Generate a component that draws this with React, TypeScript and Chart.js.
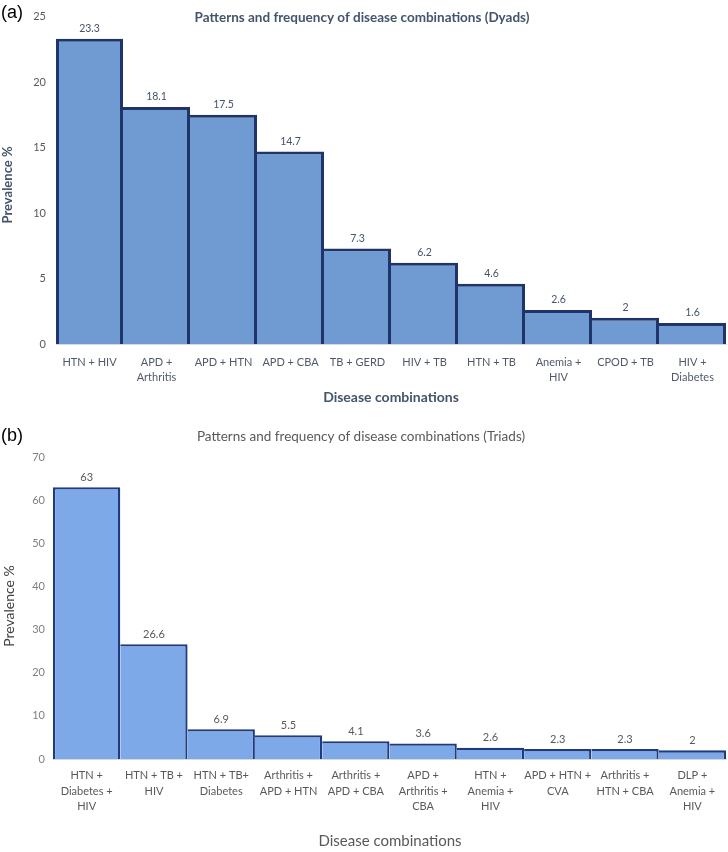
import React, { useEffect, useRef } from "react";
import { Chart, registerables } from "chart.js";

Chart.register(...registerables);

// ---------- Data ----------
const dyadLabels: string[][] = [
  ["HTN + HIV"],
  ["APD +", "Arthritis"],
  ["APD + HTN"],
  ["APD + CBA"],
  ["TB + GERD"],
  ["HIV + TB"],
  ["HTN + TB"],
  ["Anemia +", "HIV"],
  ["CPOD + TB"],
  ["HIV +", "Diabetes"],
];
const dyadValues = [23.3, 18.1, 17.5, 14.7, 7.3, 6.2, 4.6, 2.6, 2, 1.6];
const dyadAxisMax = 25;
const dyadStep = 5;

const triadLabels: string[][] = [
  ["HTN +", "Diabetes +", "HIV"],
  ["HTN + TB +", "HIV"],
  ["HTN + TB+", "Diabetes"],
  ["Arthritis +", "APD + HTN"],
  ["Arthritis +", "APD + CBA"],
  ["APD +", "Arthritis +", "CBA"],
  ["HTN +", "Anemia +", "HIV"],
  ["APD + HTN +", "CVA"],
  ["Arthritis +", "HTN + CBA"],
  ["DLP +", "Anemia +", "HIV"],
];
const triadValues = [63, 26.6, 6.9, 5.5, 4.1, 3.6, 2.6, 2.3, 2.3, 2];
const triadAxisMax = 70;
const triadStep = 10;

// ---------- Chart builder ----------
type PanelSpec = {
  width: number;
  height: number;
  labels: string[][];
  values: number[];
  max: number;
  step: number;
  fill: string;
  stroke: string;
  strokeW: number;
  padTop: number;
  yWidth: number;
  xHeight: number;
  yTickPad: number;
  yTickColor: string;
  xTickPad: number;
  xTickColor: string;
  xTickSize: number;
  xTickLineHeight: number;
  valueColor: string;
  valueFont: string;
  valueOffset: number;
  panelLetter: string;
  letterY: number;
  title: string;
  titleFont: string;
  titleColor: string;
  titleX: number;
  titleY: number;
  yTitleFont: string;
  yTitleColor: string;
  yTitleX: number;
  yTitleY: number;
  xTitleFont: string;
  xTitleColor: string;
  xTitleX: number;
  xTitleY: number;
};

function makeTextPlugin(p: PanelSpec) {
  return {
    id: "panelText" + p.panelLetter,
    afterDatasetsDraw(chart: any) {
      const ctx = chart.ctx;
      const meta = chart.getDatasetMeta(0);
      ctx.save();
      ctx.fillStyle = p.valueColor;
      ctx.font = p.valueFont;
      ctx.textAlign = "center";
      ctx.textBaseline = "middle";
      meta.data.forEach((bar: any, i: number) => {
        ctx.fillText(String(p.values[i]), bar.x, bar.y - p.valueOffset);
      });
      ctx.restore();
    },
    afterDraw(chart: any) {
      const ctx = chart.ctx;
      ctx.save();
      // panel letter
      ctx.fillStyle = "#000000";
      ctx.font = "18px 'Liberation Sans', Arial, sans-serif";
      ctx.textAlign = "left";
      ctx.textBaseline = "middle";
      ctx.fillText(p.panelLetter, 1, p.letterY);
      // title
      ctx.fillStyle = p.titleColor;
      ctx.font = p.titleFont;
      ctx.textAlign = "center";
      ctx.fillText(p.title, p.titleX, p.titleY);
      // x title
      ctx.fillStyle = p.xTitleColor;
      ctx.font = p.xTitleFont;
      ctx.fillText("Disease combinations", p.xTitleX, p.xTitleY);
      // y title
      ctx.translate(p.yTitleX, p.yTitleY);
      ctx.rotate(-Math.PI / 2);
      ctx.fillStyle = p.yTitleColor;
      ctx.font = p.yTitleFont;
      ctx.fillText("Prevalence %", 0, 0);
      ctx.restore();
    },
  };
}

function buildConfig(p: PanelSpec): any {
  const n = p.values.length;
  return {
    type: "bar",
    data: {
      labels: p.labels,
      datasets: [
        {
          data: p.values,
          backgroundColor: p.fill,
          borderColor: p.stroke,
          borderWidth: (c: any) => {
            const i = c.dataIndex;
            const v = p.values;
            return {
              top: p.strokeW,
              left: i === 0 || v[i - 1] < v[i] ? p.strokeW : 0,
              right: i === n - 1 || v[i + 1] <= v[i] ? p.strokeW : 0,
              bottom: 0,
            };
          },
          borderSkipped: false,
          barPercentage: 1,
          categoryPercentage: 1,
          inflateAmount: 0,
        },
      ],
    },
    options: {
      responsive: false,
      animation: false,
      events: [],
      layout: { padding: { left: 0, top: p.padTop, right: 2, bottom: 0 } },
      plugins: {
        legend: { display: false },
        title: { display: false },
        tooltip: { enabled: false },
      },
      scales: {
        x: {
          grid: { display: false, drawTicks: false },
          border: { display: true, color: "#d9d9d9" },
          ticks: {
            color: p.xTickColor,
            font: { family: "Lato, 'Open Sans', sans-serif", size: p.xTickSize, lineHeight: p.xTickLineHeight },
            padding: p.xTickPad,
            maxRotation: 0,
            minRotation: 0,
            autoSkip: false,
          },
          afterFit: (s: any) => {
            s.height = p.xHeight;
          },
        },
        y: {
          min: 0,
          max: p.max,
          grid: { display: false, drawTicks: false },
          border: { display: false },
          ticks: {
            stepSize: p.step,
            color: p.yTickColor,
            font: { family: "Lato, 'Open Sans', sans-serif", size: 11 },
            padding: p.yTickPad,
          },
          afterFit: (s: any) => {
            s.width = p.yWidth;
          },
        },
      },
    },
    plugins: [makeTextPlugin(p)],
  };
}

const TOP_H = 415;
const BOTTOM_H = 852 - TOP_H;

const dyadSpec: PanelSpec = {
  width: 728,
  height: TOP_H,
  labels: dyadLabels,
  values: dyadValues,
  max: dyadAxisMax,
  step: dyadStep,
  fill: "#6F9AD2",
  stroke: "#1F3468",
  strokeW: 3,
  padTop: 12,
  yWidth: 56,
  xHeight: TOP_H - 344,
  yTickPad: 10,
  yTickColor: "#595959",
  xTickPad: 11,
  xTickColor: "#505a6a",
  xTickSize: 11,
  xTickLineHeight: 1.36,
  valueColor: "#44546A",
  valueFont: "10.5px Lato, 'Open Sans', sans-serif",
  valueOffset: 10,
  panelLetter: "(a)",
  letterY: 13,
  title: "Patterns and frequency of disease combinations (Dyads)",
  titleFont: "bold 13.5px Lato, 'Open Sans', sans-serif",
  titleColor: "#44546A",
  titleX: 362,
  titleY: 18,
  yTitleFont: "bold 13px Lato, 'Open Sans', sans-serif",
  yTitleColor: "#44546A",
  yTitleX: 8,
  yTitleY: 185,
  xTitleFont: "bold 14px Lato, 'Open Sans', sans-serif",
  xTitleColor: "#44546A",
  xTitleX: 391,
  xTitleY: 397,
};

const triadSpec: PanelSpec = {
  width: 728,
  height: BOTTOM_H,
  labels: triadLabels,
  values: triadValues,
  max: triadAxisMax,
  step: triadStep,
  fill: "#7DA9E8",
  stroke: "#1F3A7E",
  strokeW: 2.3,
  padTop: 457 - TOP_H,
  yWidth: 53,
  xHeight: BOTTOM_H - (759 - TOP_H),
  yTickPad: 8,
  yTickColor: "#7f7f7f",
  xTickPad: 9,
  xTickColor: "#595959",
  xTickSize: 11,
  xTickLineHeight: 1.4,
  valueColor: "#595959",
  valueFont: "11px Lato, 'Open Sans', sans-serif",
  valueOffset: 10,
  panelLetter: "(b)",
  letterY: 436 - TOP_H,
  title: "Patterns and frequency of disease combinations (Triads)",
  titleFont: "13.5px Lato, 'Open Sans', sans-serif",
  titleColor: "#595959",
  titleX: 361,
  titleY: 437 - TOP_H,
  yTitleFont: "14px Lato, 'Open Sans', sans-serif",
  yTitleColor: "#404040",
  yTitleX: 9,
  yTitleY: 606 - TOP_H,
  xTitleFont: "15px Lato, 'Open Sans', sans-serif",
  xTitleColor: "#595959",
  xTitleX: 390,
  xTitleY: 841 - TOP_H,
};

function Panel({ spec }: { spec: PanelSpec }) {
  const ref = useRef<HTMLCanvasElement | null>(null);
  useEffect(() => {
    if (!ref.current) return;
    const chart = new Chart(ref.current, buildConfig(spec));
    return () => chart.destroy();
  }, [spec]);
  return (
    <canvas
      ref={ref}
      width={spec.width}
      height={spec.height}
      style={{ display: "block", width: spec.width, height: spec.height }}
    />
  );
}

export default function App() {
  return (
    <div
      style={{
        position: "absolute",
        left: 0,
        top: 0,
        width: 728,
        height: 852,
        background: "#ffffff",
      }}
    >
      <Panel spec={dyadSpec} />
      <Panel spec={triadSpec} />
    </div>
  );
}
